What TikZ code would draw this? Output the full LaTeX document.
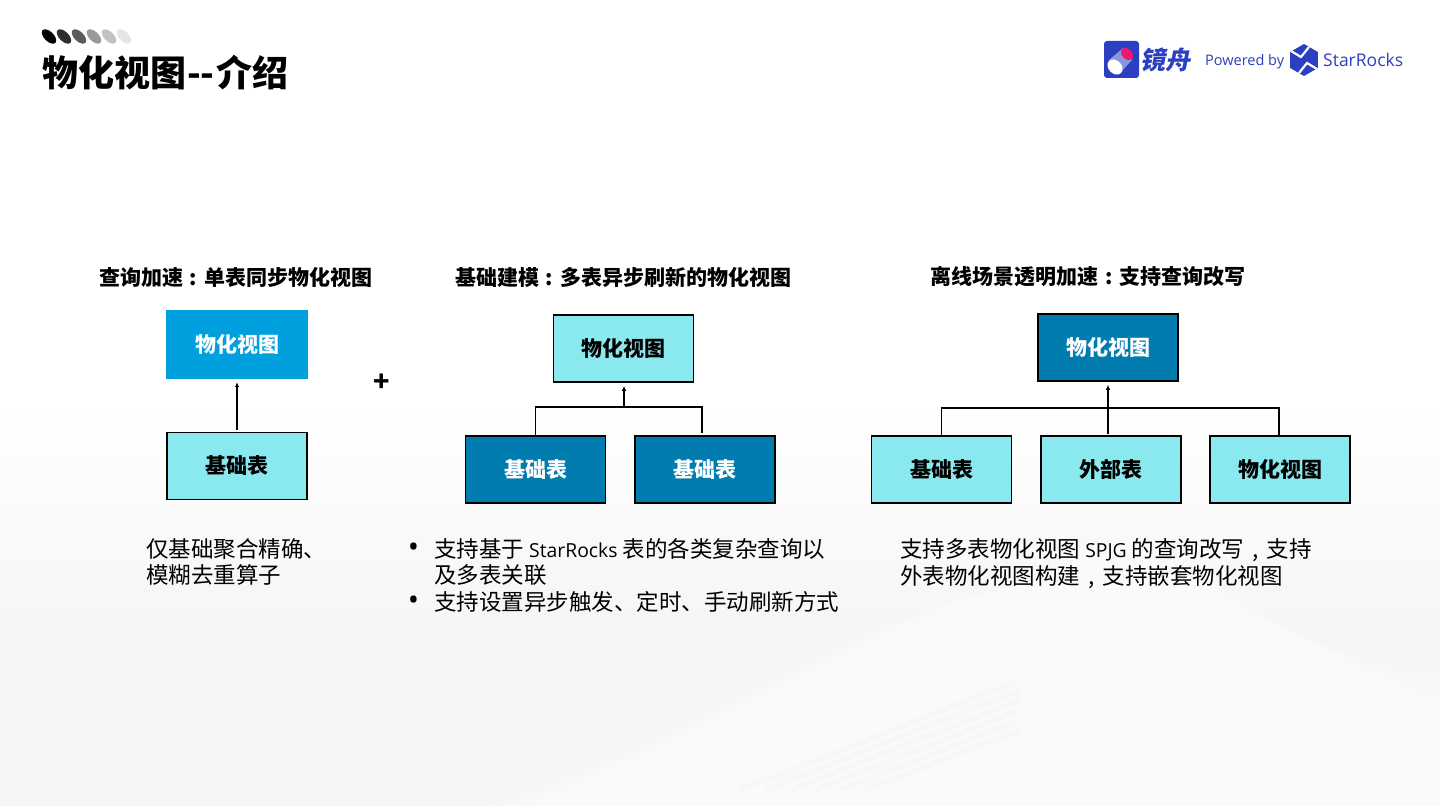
\documentclass[tikz,border=0pt]{standalone}
\usepackage{fontspec}
\setmainfont{Noto Sans CJK SC}
\newfontfamily\latinfont[Scale=0.86]{Open Sans}
\newfontfamily\logofont{Open Sans}
\usetikzlibrary{arrows.meta,shapes.geometric}

\definecolor{lightcyan}{HTML}{8AE9EF}
\definecolor{deepteal}{HTML}{007DAE}
\definecolor{brightblue}{HTML}{009FDE}
\definecolor{logoblue}{HTML}{2B3FC0}
\definecolor{logopink}{HTML}{F0166E}

\newcommand{\cnmark}[1]{\makebox[1em][c]{#1}}
\newcommand{\listdot}{\llap{{\logofont\fontsize{30}{26}\selectfont •}\hspace{15pt}}}

\tikzset{
  viewbox/.style={minimum width=140pt, minimum height=67pt, inner sep=0pt,
    font=\fontsize{21}{25}\selectfont\bfseries},
  lightbox/.style={viewbox, draw=black, line width=1.5pt, fill=lightcyan, text=black},
  darkbox/.style={viewbox, draw=black, line width=1.5pt, fill=deepteal, text=white},
  headline/.style={inner sep=0pt, font=\fontsize{21}{25}\selectfont\bfseries},
  bodytext/.style={inner sep=0pt, anchor=north west, align=left,
    font=\fontsize{22.5}{26.5}\selectfont},
  link/.style={line width=1.1pt, draw=black},
  uparrow/.style={link, -{Latex[length=5pt,width=4.5pt]}},
}

\begin{document}
\begin{tikzpicture}[x=1pt,y=-1pt]

  \useasboundingbox (0,0) rectangle (1440,810);

  % Faint swooshes in the background
  \shade[top color=white, bottom color=black!3.5] (0,400) rectangle (1440,620);
  \fill[black!3.5] (0,620) rectangle (1440,806);
  \foreach \off in {0,12,...,72} {
    \fill[white, opacity=0.18] (560-\off,806) .. controls (800,700) and (950,600-\off) .. (1120,540+\off)
      .. controls (1250,590) and (1360,680) .. (1440,740-\off) -- (1440,806) -- cycle;
  }
  \foreach \off in {0,25,...,125} {
    \draw[white, line width=7pt, opacity=0.2] (0,660+\off) .. controls (200,640+\off) and (350,690+\off) .. (560,650+\off*0.5);
    \draw[black, line width=5pt, opacity=0.012] (740+\off,790) -- (1020,680+\off*0.4);
  }

  % Row of small dots over the title
  \foreach \xc/\shade in {49/100,64/82,79/64,94/40,109/24,124/10} {
    \fill[black!\shade, rotate around={-45:(\xc,36.5)}] (\xc,36.5) ellipse (9 and 4.8);
  }

  % Title
  \node[inner sep=0pt, anchor=west, font=\fontsize{36}{40}\selectfont\bfseries]
    (title) at (42,73) {物化视图\hspace{1pt}-{}-\hspace{2pt}介绍};

  % Logos
  \fill[logoblue, rounded corners=3pt] (1104,41) rectangle (1139,78);
  \fill[logoblue!55!white] (1109,60) -- (1123,48) -- (1132,60) -- (1120,73) -- cycle;
  \fill[logopink, rotate around={-45:(1127,54)}] (1127,54) ellipse (7 and 5);
  \fill[white, rotate around={-45:(1115,67)}] (1115,67) ellipse (8.5 and 6.5);
  \node[inner sep=0pt, text=logoblue, xslant=0.2, transform shape,
    font=\fontsize{25}{28}\selectfont\bfseries] (jingzhou) at (1167,60) {镜舟};
  \node[inner sep=0pt, anchor=west, text=logoblue, font=\logofont\fontsize{14.5}{18}\selectfont]
    (powered) at (1205,61.5) {Powered by};
  \node[regular polygon, regular polygon sides=6, shape border rotate=30, fill=logoblue,
    inner sep=0pt, minimum size=32pt] (hexlogo) at (1304,60) {};
  \draw[white, line width=2.2pt] (1291,51) -- (1301,57) -- (1309,47);
  \draw[white, line width=2.2pt] (1317,69) -- (1307,63) -- (1299,73);
  \node[inner sep=0pt, anchor=west, text=logoblue, font=\logofont\fontsize{17.5}{20}\selectfont]
    (starrocks) at (1323,60) {StarRocks};

  % Left group
  \node[headline] (headleft) at (235.5,277) {查询加速\cnmark{:}单表同步物化视图};
  \node[viewbox, minimum width=142pt, minimum height=69pt, fill=brightblue, text=white]
    (mvleft) at (237,344.5) {物化视图};
  \node[lightbox] (baseleft) at (237,466) {基础表};
  \draw[uparrow, shorten <=2pt, shorten >=3pt] (baseleft.north) -- (mvleft.south);
  \node[bodytext] (textleft) at (146,538) {仅基础聚合精确、\\模糊去重算子};

  % Plus sign
  \node[inner sep=0pt, font=\fontsize{27}{30}\selectfont\bfseries] (plus) at (382,383) {+};

  % Middle group
  \node[headline] (headmid) at (623,277) {基础建模\cnmark{:}多表异步刷新的物化视图};
  \node[lightbox] (mvmid) at (623.5,348.5) {物化视图};
  \node[darkbox] (basemidone) at (535.5,469.5) {基础表};
  \node[darkbox] (basemidtwo) at (705,469.5) {基础表};
  \coordinate (joinmid) at (624,407);
  \coordinate (dropmid) at (702,433);
  \draw[link] (basemidone.north) |- (joinmid) -| (dropmid);
  \draw[uparrow, shorten >=3pt] (joinmid) -- (mvmid.south -| joinmid);
  \node[bodytext] (textmid) at (434,538)
    {\listdot 支持基于 {\latinfont StarRocks} 表的各类复杂查询以\\
    及多表关联\\
    \listdot 支持设置异步触发、定时、手动刷新方式};

  % Right group
  \node[headline] (headright) at (1088,277) {离线场景透明加速\cnmark{:}支持查询改写};
  \node[darkbox] (mvright) at (1108,347.5) {物化视图};
  \node[lightbox] (baseright) at (941.5,469.5) {基础表};
  \node[lightbox] (extright) at (1111,469.5) {外部表};
  \node[lightbox] (nestright) at (1280,469.5) {物化视图};
  \coordinate (joinright) at (1108,408);
  \coordinate (dropright) at (1279,435);
  \coordinate (riseright) at (1108,434);
  \draw[link] (baseright.north) |- (joinright) -| (dropright);
  \draw[uparrow, shorten >=3pt] (riseright) -- (mvright.south -| riseright);
  \node[bodytext, font=\fontsize{22.5}{27}\selectfont] (textright) at (900,538)
    {支持多表物化视图 {\latinfont SPJG} 的查询改写\cnmark{,}支持\\
    外表物化视图构建\cnmark{,}支持嵌套物化视图};

\end{tikzpicture}
\end{document}
